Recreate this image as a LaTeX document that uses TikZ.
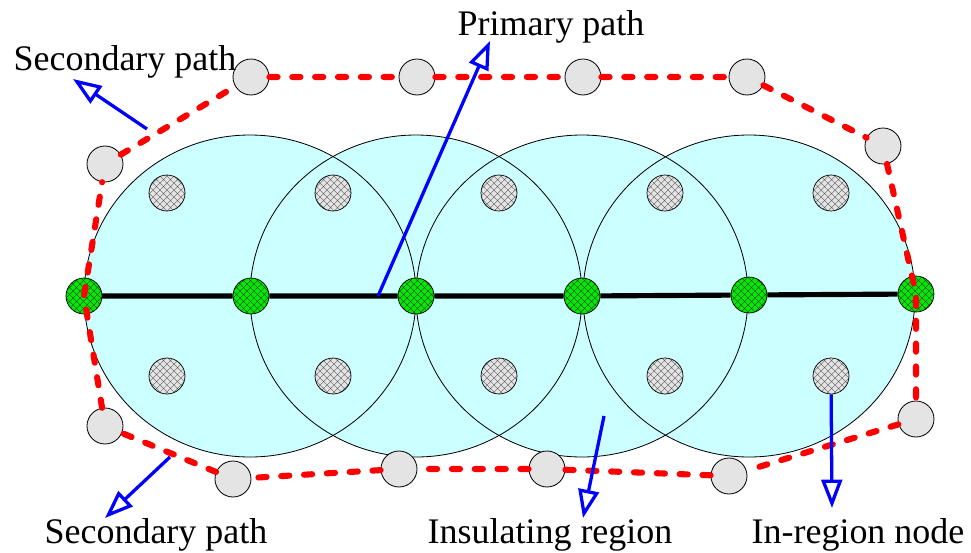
\documentclass[tikz,border=0pt]{standalone}
\usepackage{fontspec}
\setmainfont{Liberation Serif}
\usetikzlibrary{arrows.meta,patterns.meta}
\definecolor{regioncyan}{RGB}{204,255,255}
\definecolor{nodegreen}{RGB}{0,235,0}
\definecolor{nodegray}{RGB}{228,228,228}
\definecolor{hatchgray}{RGB}{228,228,228}
\tikzset{
  outnode/.style={circle,draw,line width=0.7pt,fill=nodegray,minimum size=1.08cm,inner sep=0pt},
  primnode/.style={circle,draw,line width=0.6pt,minimum size=1.08cm,inner sep=0pt,
    preaction={fill=nodegreen},pattern={Hatch[angle=45,distance=4.2pt,line width=0.3pt]},pattern color=black!80},
  innode/.style={circle,draw,line width=0.6pt,minimum size=1.08cm,inner sep=0pt,
    preaction={fill=hatchgray},pattern={Hatch[angle=45,distance=4.2pt,line width=0.3pt]},pattern color=black!65},
  secpath/.style={red,line width=5.2pt,line cap=round,dash pattern=on 7pt off 12.5pt},
  primpath/.style={black,line width=4.4pt},
  pointer/.style={blue,line width=2.8pt,-{Triangle[open,length=0.85cm,width=0.62cm]}},
  lbl/.style={anchor=base,inner sep=0pt,font=\fontsize{30.7}{36}\selectfont}
}

\begin{document}
\begin{tikzpicture}[x=0.03cm,y=-0.03cm]
\useasboundingbox (0,0) rectangle (971,552);
\fill[regioncyan] (250,296) ellipse [x radius=166,y radius=161];
\fill[regioncyan] (416,296) ellipse [x radius=166,y radius=161];
\fill[regioncyan] (582,296) ellipse [x radius=166,y radius=161];
\fill[regioncyan] (749,296) ellipse [x radius=166,y radius=161];
\draw[line width=0.7pt] (250,296) ellipse [x radius=166,y radius=161];
\draw[line width=0.7pt] (416,296) ellipse [x radius=166,y radius=161];
\draw[line width=0.7pt] (582,296) ellipse [x radius=166,y radius=161];
\draw[line width=0.7pt] (749,296) ellipse [x radius=166,y radius=161];
\node[primnode] (p0) at (84,296) {};
\node[primnode] (p1) at (251,296) {};
\node[primnode] (p2) at (416,296) {};
\node[primnode] (p3) at (582,296) {};
\node[primnode] (p4) at (749,295) {};
\node[primnode] (p5) at (916,294) {};
\node[outnode] (s1) at (251,77) {};
\node[outnode] (s2) at (417,77) {};
\node[outnode] (s3) at (583,77) {};
\node[outnode] (s4) at (747,77) {};
\node[outnode] (s5) at (883,146) {};
\node[outnode] (s6) at (916,419) {};
\node[outnode] (s7) at (729,476) {};
\node[outnode] (s8) at (547,469) {};
\node[outnode] (s9) at (399,469) {};
\node[outnode] (s10) at (233,479) {};
\node[outnode] (s11) at (105,426) {};
\node[outnode] (s12) at (105,164) {};
\draw[primpath] (p0) -- (p1) -- (p2) -- (p3) -- (p4) -- (p5);
\draw[secpath] (s1) -- (s2) -- (s3) -- (s4) -- (s5) -- (p5.center) -- (s6) -- (s7) -- (s8) -- (s9) -- (s10) -- (s11) -- (p0.center) -- (s12) -- (s1);
\node[innode] (h1) at (167,193) {};
\node[innode] (h2) at (333,193) {};
\node[innode] (h3) at (499,193) {};
\node[innode] (h4) at (665,193) {};
\node[innode] (h5) at (831,193) {};
\node[innode] (h6) at (167,376) {};
\node[innode] (h7) at (333,376) {};
\node[innode] (h8) at (499,376) {};
\node[innode] (h9) at (665,376) {};
\node[innode] (h10) at (831,376) {};
\node[lbl] (secTop) at (125,70) {Secondary path};
\node[lbl] (prim) at (551,35) {Primary path};
\node[lbl] (secBot) at (156,543) {Secondary path};
\node[lbl] (ins) at (550,543) {Insulating region};
\node[lbl] (inreg) at (858,543) {In-region node};
\coordinate (secTopTail) at (147,129);
\coordinate (secTopTip) at (73,79);
\coordinate (primTail) at (378,296);
\coordinate (primTip) at (490,41);
\coordinate (secBotTail) at (170,457);
\coordinate (secBotTip) at (105,518);
\coordinate (insTail) at (604,416);
\coordinate (insTip) at (583,518);
\coordinate (inregTip) at (832,508);
\draw[pointer] (secTopTail) -- (secTopTip);
\draw[pointer] (primTail) -- (primTip);
\draw[pointer] (secBotTail) -- (secBotTip);
\draw[pointer] (insTail) -- (insTip);
\draw[pointer] (h10) -- (inregTip);
\end{tikzpicture}
\end{document}
